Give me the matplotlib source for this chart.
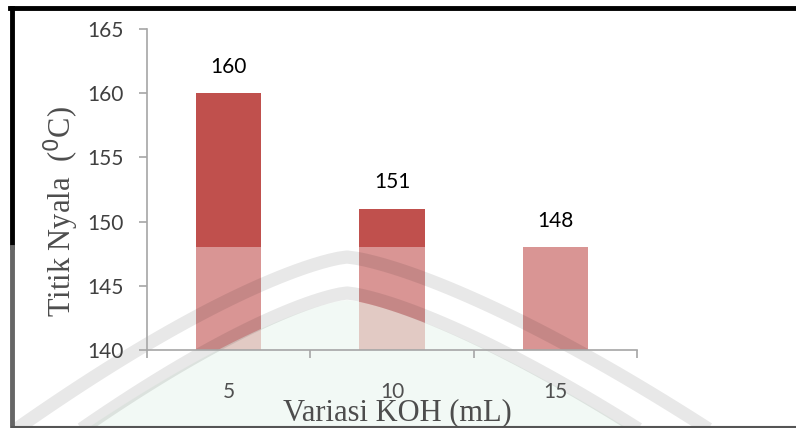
import matplotlib
matplotlib.use("Agg")
import matplotlib.pyplot as plt
from matplotlib.lines import Line2D
from matplotlib.patches import Rectangle, Polygon
import numpy as np

# data
categories = ["5", "10", "15"]
values = [160, 151, 148]
y_ticks = [140, 145, 150, 155, 160, 165]

W, H = 796, 428
fig = plt.figure(figsize=(W / 100, H / 100), dpi=100)


def fx(px):
    return np.asarray(px) / W


def fy(py):
    return 1 - np.asarray(py) / H


ax = fig.add_axes([fx(147), fy(350), fx(637) - fx(147), fy(29) - fy(350)])
ax.set_axisbelow(False)  # axis + labels above the watermark layer

x = np.arange(len(categories))
ax.bar(x, values, width=0.4, color="#C0504D", zorder=2)
for xi, v in zip(x, values):
    ax.annotate(f"{v}", (xi, v), xytext=(0, 19), textcoords="offset points",
                ha="center", va="center", fontsize=15, family="Lato",
                color="black", zorder=20)

ax.set_xlim(-0.5, len(categories) - 0.5)
ax.set_ylim(140, 165)
ax.set_yticks(y_ticks)
ax.set_xticks(x)
ax.set_xticklabels(categories)
ax.set_xticks(np.arange(len(categories) + 1) - 0.5, minor=True)

for s in ["top", "right"]:
    ax.spines[s].set_visible(False)
for s in ["left", "bottom"]:
    ax.spines[s].set_color("#A6A6A6")
    ax.spines[s].set_linewidth(1.2)

ax.tick_params(axis="y", length=6, width=1.2, color="#A6A6A6", pad=11,
               labelsize=15, labelcolor="#404040")
ax.tick_params(axis="x", which="major", length=0, pad=23,
               labelsize=15, labelcolor="#505050")
ax.tick_params(axis="x", which="minor", length=6, width=1.2, color="#A6A6A6")
for lab in ax.get_xticklabels() + ax.get_yticklabels():
    lab.set_family("Lato")

fig.text(fx(61), fy(212), "Titik Nyala  ($^{0}$C)", rotation=90,
         ha="center", va="center", fontsize=22, family="Liberation Serif",
         color="#4D4D4D", zorder=20)
fig.text(fx(397), fy(413), "Variasi KOH (mL)", ha="center", va="center",
         fontsize=22, family="Liberation Serif", color="#4D4D4D", zorder=20)

# page frame (black above the watermark, grey inside it)
wm_top = 247
fig.add_artist(Line2D([fx(10), 1], [fy(8), fy(8)], color="black", lw=3.5))
fig.add_artist(Line2D([fx(12), fx(12)], [fy(8), fy(wm_top)], color="black", lw=3.5))
fig.add_artist(Line2D([fx(12), fx(12)], [fy(wm_top), fy(428)], color="#666666", lw=3.5))
fig.add_artist(Line2D([fx(12), 1], [fy(427), fy(427)], color="#555555", lw=1.5))


# watermark drawn inside the axes (above bars, below axis lines and labels)
def arch(apex_x, apex_y, left_x, right_x, bottom=430, n=40):
    t = np.linspace(0, 1, n)
    yl = apex_y + (bottom - apex_y) * t ** 1.35
    xs = np.concatenate([apex_x - (apex_x - left_x) * t[::-1], apex_x + (right_x - apex_x) * t[1:]])
    ys = np.concatenate([yl[::-1], yl[1:]])
    return xs, ys


gx, gy = arch(347, 300, 85, 630)
ax.add_artist(Polygon(np.column_stack([fx(gx), fy(gy)]), closed=True,
                      transform=fig.transFigure, clip_on=False,
                      facecolor="#DCEFE2", edgecolor="none", alpha=0.55, zorder=2.1))
ax.add_artist(Rectangle((0, 0), 1, fy(wm_top), transform=fig.transFigure,
                        clip_on=False, facecolor="white", alpha=0.4,
                        edgecolor="none", zorder=2.2))
for ax_, ay_, lx_, rx_ in [(347, 257, 15, 710), (347, 293, 80, 640)]:
    bx, by = arch(ax_, ay_, lx_, rx_)
    ax.add_artist(Line2D(fx(bx), fy(by), transform=fig.transFigure, clip_on=False,
                         color="black", lw=9.5, alpha=0.09,
                         solid_capstyle="butt", solid_joinstyle="round", zorder=2.3))

fig.savefig("out.png", dpi=100)
